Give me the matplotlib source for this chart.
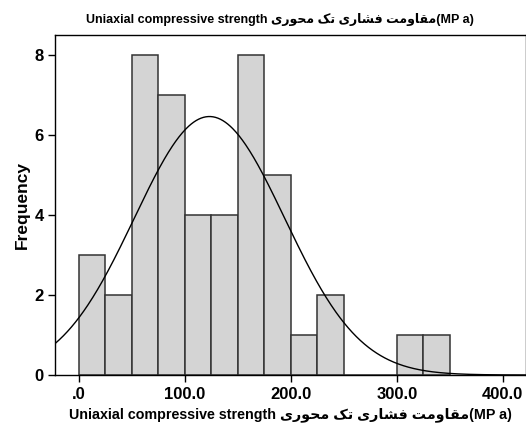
import numpy as np
import matplotlib
matplotlib.use("Agg")
import matplotlib.pyplot as plt

plt.rcParams['font.family'] = ['Liberation Sans', 'DejaVu Sans']

bin_edges = [0, 25, 50, 75, 100, 125, 150, 175, 200, 225, 250, 275, 300, 325, 350]
counts = [3, 2, 8, 7, 4, 4, 8, 5, 1, 2, 0, 0, 1, 1]
curve_mean = 123.2
curve_sd = 71.0
xticks = [0, 100, 200, 300, 400]
xticklabels = ['.0', '100.0', '200.0', '300.0', '400.0']
yticks = [0, 2, 4, 6, 8]

# Persian phrase in visual (left-to-right) order using presentation forms
fa = ''.join(chr(c) for c in [0xFEEF, 0xFEAD, 0xFEEE, 0xFEA4, 0xFEE3, 0x20,
                              0xFB8F, 0xFE97, 0x20,
                              0xFEEF, 0xFEAD, 0xFE8E, 0xFEB8, 0xFED3, 0x20,
                              0xFE96, 0xFEE3, 0xFEED, 0xFE8E, 0xFED8, 0xFEE3])
label = 'Uniaxial compressive strength ' + fa + '(MP a)'

fig = plt.figure(figsize=(5.26, 4.28), dpi=100)
ax = fig.add_axes([55/526, 1-375/428, 1-55/526, 340/428])

lefts = np.array(bin_edges[:-1])
widths = np.diff(bin_edges)
ax.bar(lefts, counts, width=widths, align='edge', color='#d4d4d4',
       edgecolor='#333333', linewidth=1.1, zorder=2)

n = sum(counts)
bw = widths[0]
xs = np.linspace(-30, 430, 600)
ys = n * bw / (curve_sd * np.sqrt(2*np.pi)) * np.exp(-(xs-curve_mean)**2/(2*curve_sd**2))
ax.plot(xs, ys, color='black', linewidth=1.0, zorder=3)

ax.set_xlim(-22.6, 422)
ax.set_ylim(0, 8.5)
ax.set_xticks(xticks)
ax.set_xticklabels(xticklabels)
ax.set_yticks(yticks)
ax.tick_params(direction='out', length=5, width=1, labelsize=12, colors='black')
ax.tick_params(axis='y', pad=3)
for t in ax.get_xticklabels() + ax.get_yticklabels():
    t.set_fontweight('bold')
for s in ax.spines.values():
    s.set_linewidth(1.0)
    s.set_color('black')

fig.text(22/526, 1-205/428, 'Frequency', rotation=90, ha='center', va='center',
         fontsize=12.5, fontweight='bold')
fig.text(280/526, 1-20/428, label, ha='center', va='center', fontsize=9, fontweight='bold')
fig.text(290/526, 1-415/428, label, ha='center', va='center', fontsize=10.3, fontweight='bold')

fig.savefig('out.png', dpi=100)
